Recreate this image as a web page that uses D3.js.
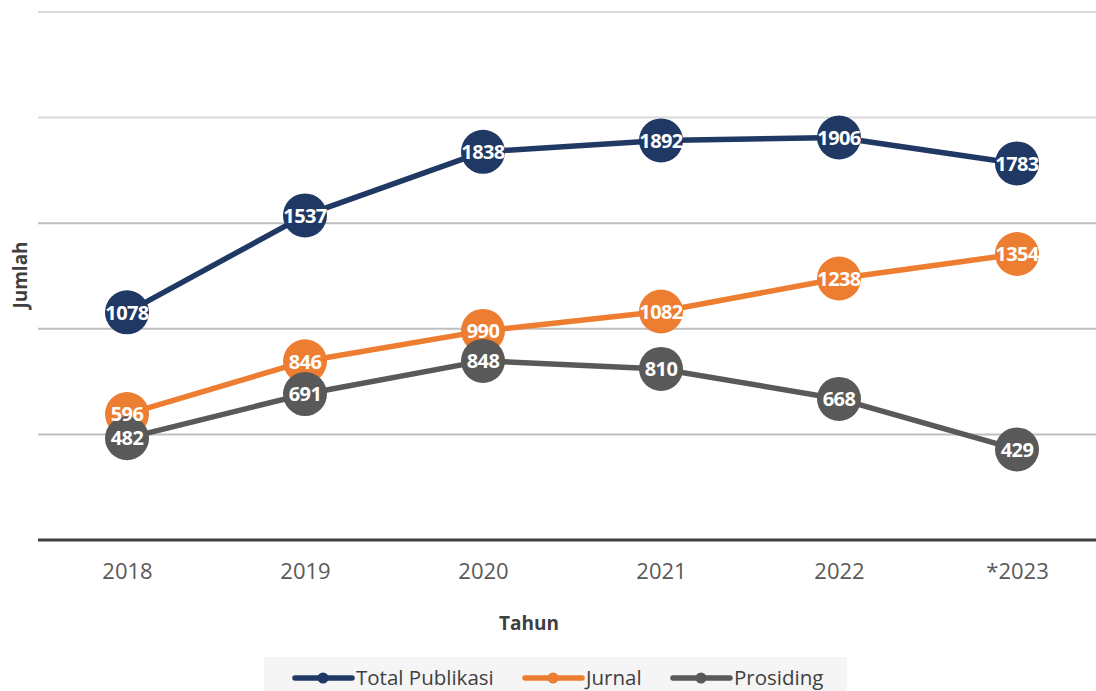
<!DOCTYPE html>
<html>
<head>
<meta charset="utf-8">
<script src="https://cdn.jsdelivr.net/npm/d3@7"></script>
<style>
  body { margin: 0; background: #fff; }
  svg { display: block; font-family: "Open Sans", "Noto Sans", sans-serif; }
</style>
</head>
<body>
<div id="chart"></div>
<script>
// data
var years = ["2018", "2019", "2020", "2021", "2022", "*2023"];
var totalPublikasi = [1078, 1537, 1838, 1892, 1906, 1783];
var jurnal = [596, 846, 990, 1082, 1238, 1354];
var prosiding = [482, 691, 848, 810, 668, 429];
var gridTicks = [0, 500, 1000, 1500, 2000, 2500];

var seriesList = [
    { name: "Total Publikasi", values: totalPublikasi, color: "#1f3864" },
    { name: "Jurnal", values: jurnal, color: "#ed7d31" },
    { name: "Prosiding", values: prosiding, color: "#595959" }
];

var width = 1096, height = 691;
var margin = { top: 12, right: -10, bottom: 151, left: 38 };

var svg = d3.select("#chart").append("svg")
    .attr("width", width)
    .attr("height", height);

var x = d3.scalePoint()
    .domain(years)
    .range([margin.left, width - margin.right])
    .padding(0.5);

var y = d3.scaleLinear()
    .domain([0, 2500])
    .range([height - margin.bottom, margin.top]);

// gridlines
svg.append("g")
    .selectAll("line")
    .data(gridTicks.slice(1))
    .enter().append("line")
    .attr("x1", margin.left)
    .attr("x2", width)
    .attr("y1", function(d) { return y(d); })
    .attr("y2", function(d) { return y(d); })
    .attr("stroke", function(d) { return d >= 2000 ? "#d9d9d9" : "#bfbfbf"; })
    .attr("stroke-width", 2);

// x axis
var xAxis = svg.append("g")
    .attr("transform", "translate(0," + y(0) + ")")
    .call(d3.axisBottom(x).tickSize(0).tickPadding(23));
xAxis.select(".domain").remove();
xAxis.append("line")
    .attr("x1", margin.left).attr("x2", width)
    .attr("stroke", "#404040").attr("stroke-width", 3);
xAxis.selectAll("text")
    .style("font-size", "22px")
    .style("fill", "#595959")
    .style("font-family", "'Open Sans', sans-serif");

// axis titles
svg.append("text")
    .attr("x", 529).attr("y", 630)
    .attr("text-anchor", "middle")
    .style("font-size", "19px").style("font-weight", "bold").style("fill", "#404040")
    .text("Tahun");

svg.append("text")
    .attr("transform", "translate(27,275) rotate(-90)")
    .attr("text-anchor", "middle")
    .style("font-size", "19px").style("font-weight", "bold").style("fill", "#404040")
    .text("Jumlah");

var line = d3.line()
    .x(function(d, i) { return x(years[i]); })
    .y(function(d) { return y(d); });

// lines and markers
seriesList.forEach(function(s) {
    var g = svg.append("g");
    g.append("path")
        .datum(s.values)
        .attr("d", line)
        .attr("fill", "none")
        .attr("stroke", s.color)
        .attr("stroke-width", 5.5)
        .attr("stroke-linejoin", "round");
    g.selectAll("circle")
        .data(s.values)
        .enter().append("circle")
        .attr("cx", function(d, i) { return x(years[i]); })
        .attr("cy", function(d) { return y(d); })
        .attr("r", 22)
        .attr("fill", s.color);
});

// value labels on top
seriesList.forEach(function(s) {
    svg.append("g")
        .selectAll("text")
        .data(s.values)
        .enter().append("text")
        .attr("x", function(d, i) { return x(years[i]); })
        .attr("y", function(d) { return y(d); })
        .attr("dy", "0.36em")
        .attr("text-anchor", "middle")
        .style("font-size", "20px")
        .style("font-weight", "bold")
        .style("fill", "#fff")
        .style("letter-spacing", "-0.6px")
        .text(function(d) { return d; });
});

// legend
var legend = svg.append("g");
legend.append("rect")
    .attr("x", 264).attr("y", 657)
    .attr("width", 583).attr("height", 40)
    .attr("fill", "#f5f5f5");

var legendX = [295, 525, 673];
seriesList.forEach(function(s, i) {
    var lg = legend.append("g").attr("transform", "translate(" + legendX[i] + ",678)");
    lg.append("line")
        .attr("x1", 0).attr("x2", 57)
        .attr("stroke", s.color).attr("stroke-width", 5.5)
        .attr("stroke-linecap", "round");
    lg.append("circle").attr("cx", 28).attr("r", 5.5).attr("fill", s.color);
    lg.append("text")
        .attr("x", 61).attr("dy", "0.35em")
        .style("font-size", "20.5px")
        .style("fill", "#404040")
        .text(s.name);
});
</script>
</body>
</html>
